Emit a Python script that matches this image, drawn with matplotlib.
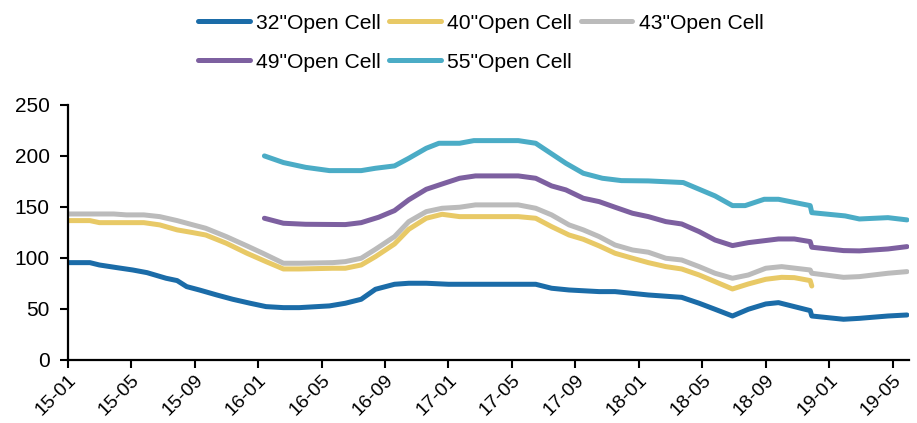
import matplotlib
matplotlib.use("Agg")
import matplotlib.pyplot as plt

plt.rcParams['font.family'] = ['Liberation Sans', 'DejaVu Sans']

# month positions counted from 15-01 (0 = Jan 2015)
tick_pos = list(range(0, 53, 4))
tick_labels = ['15-01', '15-05', '15-09', '16-01', '16-05', '16-09', '17-01',
               '17-05', '17-09', '18-01', '18-05', '18-09', '19-01', '19-05']

# 32" Open Cell
x32 = [0, 1.4, 2.0, 3.1, 4.1, 5.0, 6.2, 6.9, 7.5, 8.3, 9.4, 10.4, 11.5, 12.5, 13.6,
       14.6, 16.5, 17.5, 18.5, 19.4, 20.6, 21.5, 22.6, 24.0, 29.5, 30.5, 31.6, 33.5,
       34.5, 36.6, 38.7, 39.8, 40.8, 41.9, 42.9, 44.0, 44.8, 46.8, 46.9, 48.9, 49.9,
       51.7, 52.9]
y32 = [95.4, 95.4, 93.1, 90.5, 88.2, 85.6, 80.1, 77.8, 71.9, 68.6, 63.7, 59.5, 55.6,
       52.3, 51.3, 51.3, 53, 55.6, 59.5, 69.3, 74.2, 75.2, 75.2, 74.2, 74.2, 70.3, 68.6,
       67, 67, 63.7, 61.4, 55.6, 49.7, 43.1, 49.7, 54.9, 56.2, 48.4, 43.1, 39.9, 40.8,
       43.1, 44.1]

# 40" Open Cell
x40 = [0, 1.4, 2.0, 4.8, 5.8, 6.9, 7.9, 8.7, 10.0, 11.3, 12.5, 13.6, 14.6, 16.7, 17.5,
       18.5, 19.4, 20.6, 21.5, 22.6, 23.6, 24.7, 28.4, 29.5, 30.5, 31.6, 32.5, 33.5,
       34.5, 35.6, 36.6, 37.7, 38.7, 39.8, 40.8, 41.9, 42.9, 44.0, 45.0, 45.8, 46.8, 46.9]
y40 = [136.6, 136.6, 134.6, 134.6, 132.4, 127.5, 124.8, 122.5, 114.4, 104.6, 96.4,
       89.2, 89.2, 89.9, 89.9, 93.1, 101.3, 113.7, 128.1, 138.9, 142.8, 140.5, 140.5,
       138.9, 130.7, 122.5, 118.3, 111.8, 104.6, 99.7, 95.4, 91.5, 89.2, 83.3, 76.8,
       69.6, 74.5, 79.1, 81, 80.7, 77.8, 72.5]

# 43" Open Cell
x43 = [0, 2.9, 3.7, 4.8, 5.8, 6.9, 7.9, 8.7, 10.0, 11.3, 12.3, 13.6, 14.6, 16.7, 17.5,
       18.5, 19.4, 20.6, 21.5, 22.6, 23.6, 24.7, 25.7, 28.4, 29.5, 30.5, 31.6, 32.5,
       33.5, 34.5, 35.6, 36.6, 37.7, 38.7, 39.8, 40.8, 41.9, 42.9, 44.0, 45.0, 46.8,
       46.9, 48.9, 49.9, 51.7, 52.9]
y43 = [143.1, 143.1, 142.2, 142.2, 140.5, 136.6, 132.4, 129.1, 120.9, 111.8, 104.6,
       94.8, 94.8, 95.4, 96.4, 99.7, 108.5, 120.9, 135.6, 145.4, 148.7, 149.7, 152, 152,
       148.7, 142.2, 132.4, 127.5, 120.9, 112.7, 107.8, 105.6, 99.7, 98, 91.5, 85, 80.1,
       83.3, 89.9, 91.5, 88.2, 85, 81, 81.7, 85, 86.6]

# 49" Open Cell
x49 = [12.4, 13.6, 15.0, 17.5, 18.5, 19.6, 20.6, 21.5, 22.6, 23.6, 24.7, 25.7, 28.4,
       29.5, 30.5, 31.4, 32.5, 33.5, 34.5, 35.6, 36.6, 37.7, 38.7, 39.8, 40.8, 41.9,
       42.9, 44.8, 45.8, 46.8, 46.9, 48.9, 49.9, 51.7, 52.9]
y49 = [138.9, 134, 133, 132.7, 134.6, 139.9, 146.4, 157, 167.3, 172.5, 178.1, 180.4,
       180.4, 178.1, 170.6, 166.7, 158.5, 155.2, 149.7, 143.8, 140.5, 135.6, 133.3,
       125.8, 117.6, 112.1, 115, 118.6, 118.6, 116, 110.5, 107.2, 106.9, 108.8, 111.1]

# 55" Open Cell
x55 = [12.4, 13.6, 15.0, 16.5, 18.5, 19.4, 20.6, 21.5, 22.6, 23.4, 24.7, 25.6, 28.4,
       29.5, 31.4, 32.5, 33.7, 34.9, 36.6, 38.8, 40.8, 41.9, 42.7, 43.9, 44.8, 46.8,
       46.9, 49.0, 49.9, 51.7, 52.9]
y55 = [200, 193.5, 188.8, 185.6, 185.6, 187.9, 190.2, 197.7, 207.5, 212.4, 212.4, 215,
       215, 212.4, 192.8, 183, 178.1, 175.8, 175.5, 173.9, 160.8, 151.3, 151.3, 157.5,
       157.5, 151.3, 144.4, 141.2, 138.2, 139.5, 137.3]

series = [
    ('32"Open Cell', x32, y32, '#1B6CA8'),
    ('40"Open Cell', x40, y40, '#E8C966'),
    ('43"Open Cell', x43, y43, '#BBBBBB'),
    ('49"Open Cell', x49, y49, '#7D60A0'),
    ('55"Open Cell', x55, y55, '#4BACC6'),
]

fig = plt.figure(figsize=(9.17, 4.23), dpi=100)
ax = fig.add_axes([0.0738, 0.149, 0.917, 0.603])

lines = []
for name, xs, ys, col in series:
    ln, = ax.plot(xs, ys, color=col, lw=3.6, label=name,
                  solid_capstyle='round', solid_joinstyle='round')
    lines.append(ln)

ax.set_xlim(0, 53.0)
ax.set_ylim(0, 250)
ax.set_yticks([0, 50, 100, 150, 200, 250])
ax.set_xticks(tick_pos)
ax.set_xticklabels(tick_labels, rotation=45, ha='right', va='top',
                   rotation_mode='anchor')

for s in ['top', 'right']:
    ax.spines[s].set_visible(False)
for s in ['left', 'bottom']:
    ax.spines[s].set_linewidth(1.6)
    ax.spines[s].set_color('black')
ax.tick_params(axis='both', direction='out', length=5.5, width=1.5,
               labelsize=15, colors='black')
ax.tick_params(axis='y', pad=7.5)
ax.tick_params(axis='x', pad=3, labelsize=14)

# legend filled column-wise, so reorder to read row-wise
order = [0, 3, 1, 4, 2]
fig.legend([lines[i] for i in order], [series[i][0] for i in order],
           loc='upper left', bbox_to_anchor=(0.216, 0.968), ncol=3,
           frameon=False, fontsize=15.2, handlelength=2.45, handletextpad=0.3,
           columnspacing=0.4, labelspacing=0.95, borderpad=0, borderaxespad=0)

fig.savefig('out.png', dpi=100)
